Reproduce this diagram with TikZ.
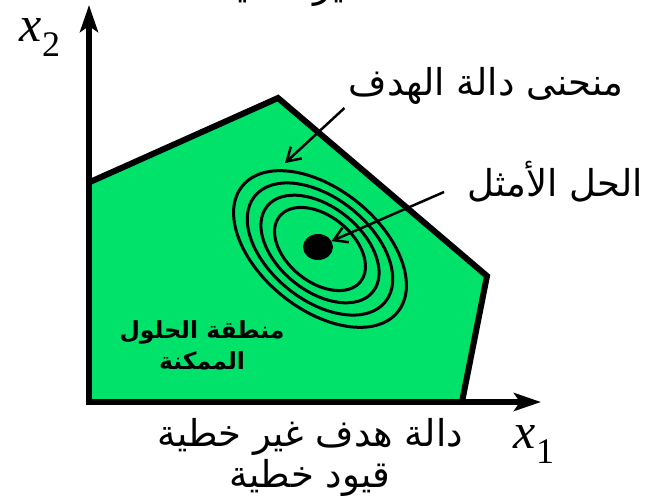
\documentclass[tikz,border=0pt]{standalone}
\usepackage{fontspec}
\setmainfont{Liberation Serif}
\newfontfamily\arabicfont[Script=Arabic]{DejaVu Sans}
\TeXXeTstate=1
\usetikzlibrary{arrows.meta,shapes.geometric}
\definecolor{feasgreen}{RGB}{0,226,106}
\begin{document}
\begin{tikzpicture}[x=1pt,y=-1pt,
  axis/.style={line width=5.5pt, -{Stealth[length=27pt,width=18pt,inset=6pt]}},
  edgeline/.style={line width=6pt, line join=miter},
  ring/.style={line width=3pt},
  pointer/.style={line width=2.5pt, -{Straight Barb[length=13pt,width=16pt,line width=2.5pt]}},
  ar/.style={font=\arabicfont\fontsize{37}{42}\selectfont, inner sep=0pt},
  arbold/.style={font=\arabicfont\bfseries\fontsize{23.5}{31}\selectfont, inner sep=0pt, align=center},
  lbl/.style={inner sep=0pt},
]
\useasboundingbox (0,0) rectangle (648,501);
% feasible region
\fill[feasgreen] (90,182) -- (278,98) -- (487,276) -- (462,402) -- (90,402) -- cycle;
\draw[edgeline] (90,182) -- (278,98) -- (487,276) -- (462,402);
% axes
\coordinate (O) at (89,402);
\coordinate (ytip) at (89,5);
\coordinate (xtip) at (541,402);
\draw[axis] ([yshift=3pt]O) -- (ytip);
\draw[axis] ([xshift=-3pt]O) -- (xtip);
% contour rings
\coordinate (c) at (320,249);
\foreach \a/\b in {100/60, 84/51, 68/42, 52/33}
  \draw[ring, rotate around={-39:(c)}] (c) ellipse [x radius=\a pt, y radius=\b pt];
\node (opt) [ellipse, fill=black, minimum width=30pt, minimum height=26pt, inner sep=0pt] at (318,247) {};
% labels
\node[lbl] (x2lbl) at (40,38) {\fontsize{50}{50}\selectfont\textit{x}\raisebox{-0.3em}{\fontsize{36}{36}\selectfont 2}};
\node[lbl] (x1lbl) at (534,445) {\fontsize{50}{50}\selectfont\textit{x}\raisebox{-0.3em}{\fontsize{36}{36}\selectfont 1}};
\node[ar] (curveLbl) at (486,86) {\beginR منحنى دالة الهدف\endR};
\node[ar] (optLbl) at (555,182) {\beginR الحل الأمثل\endR};
\node[ar] (objLbl) at (310,437) {\beginR دالة هدف غير خطية\endR};
\node[ar] (consLbl) at (310,478) {\beginR قيود خطية\endR};
\node[arbold] (region) at (202,345) {\beginR منطقة الحلول\endR\\\beginR الممكنة\endR};
\begin{scope}
  \clip (0,0) rectangle (648,501);
  \node[ar, anchor=base] (topLbl) at (370,-3) {\beginR دالة هدف غير خطية\endR};
\end{scope}
% pointers
\coordinate (ringpt) at (285,163);
\draw[pointer] ([shift={(-4,22)}]curveLbl.west) -- (ringpt);
\draw[pointer] ([shift={(-23,10)}]optLbl.west) -- (opt);
\end{tikzpicture}
\end{document}
